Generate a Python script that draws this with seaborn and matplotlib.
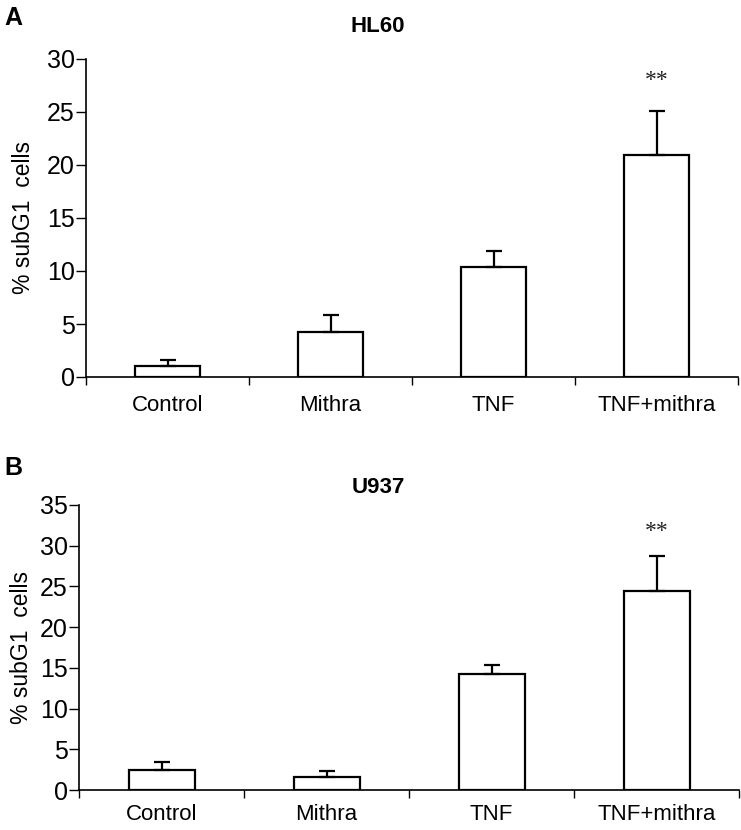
import numpy as np
import pandas as pd
import seaborn as sns
import matplotlib
matplotlib.use("Agg")
import matplotlib.pyplot as plt
from matplotlib import font_manager
from matplotlib.ticker import FixedLocator, MultipleLocator

categories = ["Control", "Mithra", "TNF", "TNF+mithra"]
hl60_values = [1.03, 4.29, 10.38, 20.9]
hl60_err = [0.57, 1.6, 1.5, 4.15]
u937_values = [2.5, 1.56, 14.25, 24.4]
u937_err = [1.0, 0.77, 1.15, 4.3]
hl60_sig = ["", "", "", "**"]
u937_sig = ["", "", "", "**"]

sns.set_theme(style="white")
names = {f.name for f in font_manager.fontManager.ttflist}
main_font = "Liberation Sans Narrow" if "Liberation Sans Narrow" in names else "Liberation Sans"
plt.rcParams["font.family"] = [main_font, "DejaVu Sans"]
plt.rcParams["text.color"] = "black"
plt.rcParams["axes.labelcolor"] = "black"
plt.rcParams["xtick.color"] = "black"
plt.rcParams["ytick.color"] = "black"

fig = plt.figure(figsize=(7.41, 8.30), dpi=100)
W, H = 741, 830

def make_ax(left, right, top, bottom):
    return fig.add_axes([left / W, 1 - bottom / H, (right - left) / W, (bottom - top) / H])

ax1 = make_ax(86, 738, 59, 377)
ax2 = make_ax(79, 739, 505, 790)

def draw(ax, vals, errs, sig, ymax, star_y, xpad):
    df = pd.DataFrame({"cat": categories, "val": vals})
    sns.barplot(data=df, x="cat", y="val", ax=ax, order=categories,
                color="white", edgecolor="black", linewidth=1.6, width=0.4,
                errorbar=None, saturation=1)
    x = np.arange(len(categories))
    ax.errorbar(x, vals, yerr=[np.zeros(len(vals)), errs], fmt="none",
                ecolor="black", elinewidth=1.6, capsize=6, capthick=1.6)
    for xi, s in zip(x, sig):
        if s:
            ax.text(xi, star_y, s, ha="center", va="center",
                    fontsize=17, family=["Liberation Serif", "DejaVu Serif"], color="#222222")
    ax.set_xlim(-0.5, 3.5)
    ax.set_ylim(0, ymax)
    ax.yaxis.set_major_locator(MultipleLocator(5))
    ax.set_xlabel("")
    ax.set_ylabel("% subG1  cells", fontsize=16.5, color="black")
    ax.xaxis.set_minor_locator(FixedLocator([-0.5, 0.5, 1.5, 2.5, 3.5]))
    ax.tick_params(axis="x", which="major", length=0, labelsize=16, pad=xpad, labelcolor="black")
    ax.tick_params(axis="x", which="minor", length=6, width=1, direction="out",
                   color="black", bottom=True)
    ax.tick_params(axis="y", which="major", length=7, width=1, direction="out",
                   color="black", labelsize=18, pad=1, left=True, labelcolor="black")
    for sp in ["top", "right"]:
        ax.spines[sp].set_visible(False)
    for sp in ["left", "bottom"]:
        ax.spines[sp].set_color("black")
        ax.spines[sp].set_linewidth(1.2)
    ax.set_facecolor("white")

draw(ax1, hl60_values, hl60_err, hl60_sig, 30, 28.0, 13)
draw(ax2, u937_values, u937_err, u937_sig, 35, 31.7, 10)

ax1.yaxis.set_label_coords((24 - 86) / (738 - 86), 0.5)
ax2.yaxis.set_label_coords((22 - 79) / (739 - 79), 0.5)
ax1.yaxis.label.set_va("center")
ax2.yaxis.label.set_va("center")

fig.text(378 / W, 1 - 27 / H, "HL60", ha="center", va="center", fontsize=16, fontweight="bold")
fig.text(378 / W, 1 - 487 / H, "U937", ha="center", va="center", fontsize=16, fontweight="bold")
fig.text(13 / W, 1 - 18 / H, "A", ha="center", va="center", fontsize=18, fontweight="bold")
fig.text(13 / W, 1 - 468 / H, "B", ha="center", va="center", fontsize=18, fontweight="bold")

fig.savefig("out.png", dpi=100, facecolor="white")
